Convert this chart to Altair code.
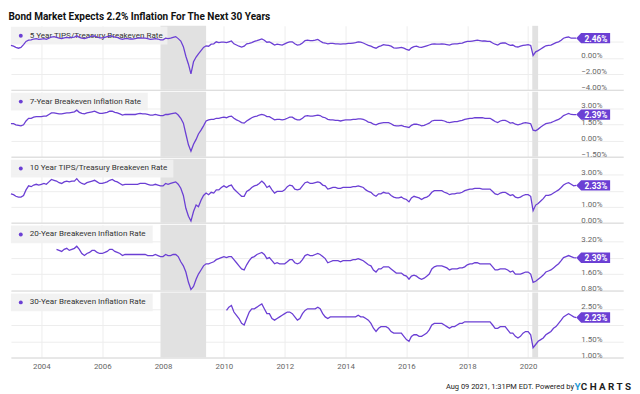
import altair as alt
import pandas as pd

# ---------------- data (monthly) ----------------
five_year = [
    1.55, 1.45, 1.30, 1.20, 1.30, 1.65, 2.05, 2.20, 2.25, 2.35, 2.40, 2.30,  # 2003
    2.35, 2.40, 2.30, 2.45, 2.60, 2.65, 2.55, 2.45, 2.40, 2.50, 2.55, 2.50,  # 2004
    2.55, 2.60, 2.75, 2.55, 2.45, 2.40, 2.50, 2.60, 2.70, 2.75, 2.60, 2.50,  # 2005
    2.50, 2.55, 2.65, 2.70, 2.70, 2.60, 2.55, 2.40, 2.30, 2.40, 2.40, 2.35,  # 2006
    2.35, 2.40, 2.45, 2.50, 2.45, 2.45, 2.40, 2.30, 2.35, 2.40, 2.35, 2.25,  # 2007
    2.25, 2.45, 2.40, 2.45, 2.55, 2.65, 2.40, 2.10, 1.40, 0.20, -0.80, -2.00,  # 2008
    -0.50, 0.10, 0.50, 0.90, 1.30, 1.50, 1.45, 1.70, 1.75, 2.00, 1.90, 1.95,  # 2009
    1.95, 1.90, 2.00, 2.10, 1.75, 1.60, 1.45, 1.35, 1.45, 1.75, 1.80, 1.90,  # 2010
    2.05, 2.15, 2.25, 2.35, 2.20, 1.95, 2.00, 1.80, 1.60, 1.70, 1.65, 1.60,  # 2011
    1.75, 1.90, 2.00, 2.00, 1.75, 1.60, 1.65, 1.85, 2.15, 2.20, 2.15, 2.15,  # 2012
    2.20, 2.30, 2.10, 1.90, 1.85, 1.75, 1.80, 1.80, 1.75, 1.75, 1.70, 1.75,  # 2013
    1.75, 1.80, 1.80, 1.85, 1.90, 2.00, 1.95, 1.85, 1.70, 1.55, 1.45, 1.30,  # 2014
    1.20, 1.40, 1.50, 1.65, 1.60, 1.55, 1.45, 1.25, 1.20, 1.25, 1.30, 1.20,  # 2015
    1.05, 0.95, 1.25, 1.40, 1.45, 1.35, 1.30, 1.40, 1.50, 1.60, 1.70, 1.75,  # 2016
    1.70, 1.70, 1.75, 1.70, 1.65, 1.60, 1.70, 1.75, 1.75, 1.80, 1.85, 1.95,  # 2017
    2.05, 2.05, 2.10, 2.15, 2.20, 2.15, 2.10, 2.10, 2.05, 2.05, 1.85, 1.70,  # 2018
    1.60, 1.80, 1.85, 1.85, 1.70, 1.55, 1.60, 1.40, 1.35, 1.45, 1.55, 1.60,  # 2019
    1.65, 1.55, 0.30, 0.75, 0.90, 1.10, 1.30, 1.50, 1.55, 1.60, 1.75, 1.90,  # 2020
    2.00, 2.20, 2.45, 2.55, 2.60, 2.45, 2.45, 2.46,                          # 2021
]
seven_year = [
    1.55, 1.55, 1.45, 1.40, 1.35, 1.45, 1.80, 2.05, 2.05, 2.15, 2.20, 2.20,
    2.20, 2.25, 2.25, 2.40, 2.55, 2.55, 2.50, 2.45, 2.45, 2.50, 2.55, 2.55,
    2.60, 2.65, 2.80, 2.60, 2.50, 2.45, 2.55, 2.60, 2.65, 2.70, 2.60, 2.50,
    2.50, 2.55, 2.60, 2.70, 2.70, 2.60, 2.55, 2.45, 2.35, 2.40, 2.40, 2.40,
    2.40, 2.40, 2.45, 2.50, 2.45, 2.45, 2.40, 2.35, 2.35, 2.40, 2.35, 2.30,
    2.30, 2.40, 2.40, 2.45, 2.50, 2.55, 2.35, 2.05, 1.60, 0.60, -0.40, -1.00,
    -0.35, 0.10, 0.60, 0.95, 1.35, 1.80, 1.90, 1.95, 1.95, 2.05, 2.05, 2.10,
    2.15, 2.10, 2.20, 2.25, 2.05, 1.90, 1.80, 1.65, 1.60, 1.80, 1.95, 2.10,
    2.20, 2.25, 2.35, 2.40, 2.35, 2.20, 2.20, 2.05, 1.90, 1.95, 1.95, 1.90,
    1.95, 2.05, 2.15, 2.15, 2.00, 1.90, 1.90, 2.05, 2.25, 2.30, 2.25, 2.25,
    2.30, 2.35, 2.30, 2.15, 2.10, 1.95, 1.90, 1.90, 1.85, 1.85, 1.80, 1.85,
    1.90, 1.90, 1.90, 1.95, 1.95, 2.00, 2.00, 1.95, 1.85, 1.70, 1.65, 1.50,
    1.45, 1.55, 1.60, 1.65, 1.65, 1.65, 1.55, 1.40, 1.35, 1.35, 1.40, 1.30,
    1.25, 1.20, 1.40, 1.50, 1.50, 1.45, 1.35, 1.40, 1.50, 1.60, 1.80, 1.85,
    1.85, 1.85, 1.85, 1.80, 1.70, 1.65, 1.70, 1.75, 1.75, 1.80, 1.85, 1.95,
    2.00, 2.05, 2.05, 2.10, 2.10, 2.10, 2.10, 2.05, 2.05, 2.05, 1.90, 1.75,
    1.65, 1.80, 1.85, 1.85, 1.75, 1.60, 1.65, 1.50, 1.45, 1.50, 1.60, 1.65,
    1.60, 1.55, 0.95, 0.90, 1.05, 1.25, 1.40, 1.55, 1.60, 1.65, 1.75, 1.85,
    1.95, 2.10, 2.30, 2.40, 2.50, 2.40, 2.38, 2.39,
]
ten_year = [
    1.80, 1.75, 1.65, 1.60, 1.60, 1.70, 2.05, 2.30, 2.25, 2.35, 2.40, 2.35,
    2.40, 2.45, 2.40, 2.55, 2.70, 2.65, 2.60, 2.50, 2.45, 2.55, 2.60, 2.55,
    2.60, 2.60, 2.75, 2.55, 2.45, 2.40, 2.50, 2.55, 2.60, 2.65, 2.55, 2.45,
    2.45, 2.50, 2.55, 2.65, 2.70, 2.60, 2.55, 2.45, 2.35, 2.40, 2.40, 2.40,
    2.40, 2.40, 2.40, 2.45, 2.45, 2.45, 2.40, 2.35, 2.35, 2.40, 2.35, 2.30,
    2.30, 2.45, 2.40, 2.45, 2.50, 2.55, 2.40, 2.15, 1.70, 0.90, 0.40, 0.10,
    0.70, 1.10, 1.00, 1.40, 1.70, 1.85, 1.75, 1.90, 1.85, 2.05, 2.05, 2.20,
    2.30, 2.20, 2.30, 2.35, 2.10, 1.95, 1.80, 1.65, 1.65, 1.95, 2.05, 2.20,
    2.30, 2.35, 2.45, 2.60, 2.45, 2.20, 2.30, 2.05, 1.85, 1.95, 1.95, 1.95,
    2.05, 2.25, 2.35, 2.30, 2.10, 2.05, 2.10, 2.30, 2.50, 2.55, 2.45, 2.45,
    2.50, 2.55, 2.50, 2.35, 2.30, 2.10, 2.15, 2.20, 2.20, 2.15, 2.15, 2.20,
    2.20, 2.20, 2.20, 2.25, 2.25, 2.30, 2.25, 2.20, 2.05, 1.95, 1.90, 1.75,
    1.65, 1.80, 1.80, 1.90, 1.85, 1.85, 1.70, 1.60, 1.55, 1.55, 1.60, 1.50,
    1.45, 1.30, 1.55, 1.65, 1.60, 1.55, 1.45, 1.55, 1.60, 1.70, 1.90, 2.00,
    2.00, 2.00, 2.00, 1.90, 1.85, 1.75, 1.80, 1.80, 1.85, 1.85, 1.90, 2.00,
    2.05, 2.10, 2.10, 2.15, 2.15, 2.15, 2.10, 2.10, 2.10, 2.10, 1.95, 1.80,
    1.75, 1.85, 1.90, 1.90, 1.80, 1.70, 1.75, 1.60, 1.55, 1.60, 1.70, 1.75,
    1.75, 1.65, 0.75, 1.10, 1.20, 1.35, 1.50, 1.70, 1.70, 1.75, 1.85, 1.95,
    2.05, 2.20, 2.35, 2.45, 2.50, 2.40, 2.30, 2.33,
]
twenty_year = [  # from Jul 2004
    2.80, 2.75, 2.70, 2.80, 2.85, 2.75,
    2.80, 2.85, 2.95, 2.80, 2.60, 2.50, 2.60, 2.65, 2.75, 2.75, 2.65, 2.60,
    2.60, 2.65, 2.70, 2.80, 2.80, 2.70, 2.65, 2.60, 2.50, 2.55, 2.55, 2.55,
    2.55, 2.55, 2.55, 2.55, 2.55, 2.55, 2.50, 2.50, 2.50, 2.55, 2.50, 2.45,
    2.45, 2.55, 2.50, 2.50, 2.55, 2.55, 2.45, 2.20, 2.00, 1.70, 1.20, 0.85,
    1.00, 1.35, 1.60, 1.80, 2.00, 2.10, 2.10, 2.15, 2.20, 2.30, 2.35, 2.40,
    2.45, 2.40, 2.45, 2.45, 2.30, 2.15, 2.00, 1.85, 1.80, 2.05, 2.25, 2.40,
    2.45, 2.55, 2.60, 2.65, 2.55, 2.35, 2.40, 2.25, 2.10, 2.15, 2.10, 2.10,
    2.10, 2.20, 2.30, 2.30, 2.15, 2.10, 2.15, 2.30, 2.50, 2.55, 2.50, 2.50,
    2.55, 2.60, 2.55, 2.45, 2.35, 2.15, 2.20, 2.25, 2.25, 2.25, 2.20, 2.25,
    2.25, 2.25, 2.25, 2.30, 2.30, 2.35, 2.30, 2.25, 2.15, 2.05, 2.00, 1.80,
    1.70, 1.85, 1.85, 1.95, 1.95, 1.95, 1.85, 1.75, 1.65, 1.65, 1.65, 1.55,
    1.50, 1.35, 1.50, 1.55, 1.50, 1.40, 1.35, 1.40, 1.50, 1.60, 1.85, 1.95,
    2.00, 2.00, 2.00, 1.95, 1.90, 1.80, 1.85, 1.85, 1.85, 1.90, 1.90, 1.95,
    2.05, 2.10, 2.10, 2.15, 2.15, 2.10, 2.10, 2.10, 2.10, 2.10, 1.95, 1.80,
    1.80, 1.85, 1.85, 1.85, 1.80, 1.70, 1.75, 1.60, 1.60, 1.60, 1.65, 1.70,
    1.70, 1.60, 1.20, 1.25, 1.35, 1.45, 1.55, 1.70, 1.75, 1.80, 1.90, 2.00,
    2.10, 2.25, 2.40, 2.45, 2.50, 2.45, 2.40, 2.39,
]
thirty_year = [  # from Feb 2010
    2.45, 2.55, 2.60, 2.40, 2.30, 2.20, 2.05, 2.00, 2.20, 2.40, 2.50,
    2.50, 2.55, 2.60, 2.65, 2.50, 2.35, 2.35, 2.20, 2.15, 2.20, 2.25, 2.30,
    2.35, 2.40, 2.40, 2.35, 2.25, 2.15, 2.20, 2.35, 2.45, 2.50, 2.50, 2.50,
    2.50, 2.55, 2.50, 2.35, 2.25, 2.20, 2.25, 2.25, 2.25, 2.25, 2.25, 2.25,
    2.25, 2.25, 2.25, 2.25, 2.25, 2.30, 2.25, 2.25, 2.20, 2.15, 2.05, 1.90,
    1.80, 1.90, 1.95, 1.95, 1.95, 1.90, 1.80, 1.75, 1.75, 1.75, 1.75, 1.65,
    1.55, 1.50, 1.65, 1.70, 1.70, 1.65, 1.65, 1.70, 1.75, 1.85, 2.00, 2.05,
    2.05, 2.05, 2.05, 2.00, 1.95, 1.90, 1.95, 1.95, 2.00, 2.05, 2.05, 2.10,
    2.10, 2.10, 2.10, 2.10, 2.10, 2.10, 2.10, 2.10, 2.10, 2.10, 2.00, 1.90,
    1.90, 1.95, 1.95, 1.95, 1.85, 1.75, 1.75, 1.65, 1.60, 1.65, 1.75, 1.80,
    1.80, 1.70, 1.30, 1.40, 1.50, 1.55, 1.60, 1.70, 1.75, 1.80, 1.90, 1.95,
    2.05, 2.15, 2.25, 2.30, 2.35, 2.30, 2.25, 2.23,
]

series_names = [
    "5 Year TIPS/Treasury Breakeven Rate",
    "7-Year Breakeven Inflation Rate",
    "10 Year TIPS/Treasury Breakeven Rate",
    "20-Year Breakeven Inflation Rate",
    "30-Year Breakeven Inflation Rate",
]
series_values = [five_year, seven_year, ten_year, twenty_year, thirty_year]
series_start = ["2003-01-01", "2003-01-01", "2003-01-01", "2004-07-01", "2010-02-01"]
y_domains = [[-4, 4], [-1.5, 4.5], [0, 4], [0.8, 4.0], [1.0, 3.0]]
y_ticks = [[-4, -2, 0, 2], [-1.5, 0, 1.5, 3], [0, 1, 2, 3], [0.8, 1.6, 2.4, 3.2], [1.0, 1.5, 2.0, 2.5]]
y_hidden = [2, 99, 2, 99, 2]   # tick labels covered by the value tag
recession_start = ["2007-12-01", "2020-02-20"]
recession_end = ["2009-06-01", "2020-04-30"]
x_years = list(range(2004, 2021, 2))
title_text = "Bond Market Expects 2.2% Inflation For The Next 30 Years"
footer_text = "Aug 09 2021, 1:31PM EDT. Powered by"

# ---------------- styling ----------------
W = 622
heights = [65, 66, 65, 67, 66]
box_widths = [159, 139, 165, 144, 144]
LINE = "#6b3fd4"
FONT = "Roboto"
GRID = "#ededed"

x_scale = alt.Scale(domain=["2003-01-01", "2023-02-15"])
rec_df = pd.DataFrame({"s": pd.to_datetime(recession_start), "e": pd.to_datetime(recession_end)})
TAG = "M0,0 L0.31,-0.33 L2.15,-0.33 L2.15,0.33 L0.31,0.33 Z"


def make_panel(i):
    h = heights[i]
    last = i == len(series_values) - 1
    vals = series_values[i]
    df = pd.DataFrame({
        "date": pd.date_range(series_start[i], periods=len(vals), freq="MS"),
        "v": vals,
    })
    end = df.tail(1).copy()
    end["lab"] = end["v"].map(lambda v: f"{v:.2f}%")

    x_axis = alt.Axis(
        values=[alt.DateTime(year=y, month=1, date=1) for y in x_years],
        format="%Y", labels=last, ticks=False, grid=True, gridColor=GRID,
        domain=True, domainColor="#d8d8d8", title=None,
        labelFont=FONT, labelFontSize=8, labelColor="#666666", labelPadding=5,
    )
    y_axis = alt.Axis(
        orient="right", offset=-46, values=y_ticks[i],
        labelExpr=f"datum.value == {y_hidden[i]} ? '' : format(datum.value, '.2f') + '%'",
        ticks=False, domain=False, grid=True, gridColor=GRID, title=None,
        labelFont=FONT, labelFontSize=8, labelColor="#666666",
        labelAlign="left", labelBaseline="alphabetic", labelPadding=3, zindex=0,
    )
    y_scale = alt.Scale(domain=y_domains[i], nice=False, zero=False)
    X = alt.X("date:T", scale=x_scale, axis=x_axis)
    Y = alt.Y("v:Q", scale=y_scale, axis=y_axis)

    rec = alt.Chart(rec_df).mark_rect(color="#e1e1e1").encode(
        x=alt.X("s:T", scale=x_scale, axis=x_axis), x2="e:T",
        y=alt.value(0), y2=alt.value(h),
    )
    one = pd.DataFrame({"k": [0]})
    box = alt.Chart(one).mark_rect(color="#f1f1f1", opacity=0.9).encode(
        x=alt.value(0), x2=alt.value(box_widths[i]), y=alt.value(1), y2=alt.value(19),
    )
    dot = alt.Chart(one).mark_circle(color=LINE, size=16, opacity=1).encode(
        x=alt.value(10), y=alt.value(10),
    )
    lab = alt.Chart(one).mark_text(
        font=FONT, fontSize=8.2, color="#333333", align="left", baseline="middle",
    ).encode(x=alt.value(19), y=alt.value(10), text=alt.value(series_names[i]))
    line = alt.Chart(df).mark_line(color=LINE, strokeWidth=1.3).encode(x=X, y=Y)
    tag = alt.Chart(end).mark_point(
        shape=TAG, size=1024, filled=True, color=LINE, opacity=1, strokeWidth=0,
    ).encode(x=X, y=Y)
    tag_text = alt.Chart(end).mark_text(
        font=FONT, fontSize=8.5, fontWeight="bold", color="white", align="center",
        baseline="middle", dx=20, dy=0.5,
    ).encode(x=X, y=Y, text="lab:N")

    layers = [rec, box, dot, lab, line, tag, tag_text]
    if last:
        foot = alt.Chart(one).mark_text(
            font=FONT, fontSize=7.6, color="#222222", align="right", baseline="middle",
        ).encode(x=alt.value(572), y=alt.value(h + 30), text=alt.value(footer_text))
        ylogo = alt.Chart(one).mark_text(
            font=FONT, fontSize=10, fontWeight="bold", color="#1f9ad6",
            align="left", baseline="middle",
        ).encode(x=alt.value(572.5), y=alt.value(h + 30), text=alt.value("Y"))
        clogo = alt.Chart(one).mark_text(
            font=FONT, fontSize=10, fontWeight="bold", color="#1e1e1e",
            align="left", baseline="middle",
        ).encode(x=alt.value(579), y=alt.value(h + 30), text=alt.value("C H A R T S"))
        layers += [foot, ylogo, clogo]
    return alt.layer(*layers).properties(width=W, height=h)


chart = alt.vconcat(*[make_panel(i) for i in range(5)], spacing=0).resolve_scale(
    y="independent"
).properties(
    title=alt.Title(title_text, anchor="start", font=FONT, fontSize=10.2,
                    fontWeight="bold", color="#111111", offset=4),
    padding={"left": 0, "top": 0, "right": 0, "bottom": 0},
).configure_view(stroke=None).configure_concat(spacing=0)

chart.save("out.html", embed_options={"renderer": "svg", "actions": False})
